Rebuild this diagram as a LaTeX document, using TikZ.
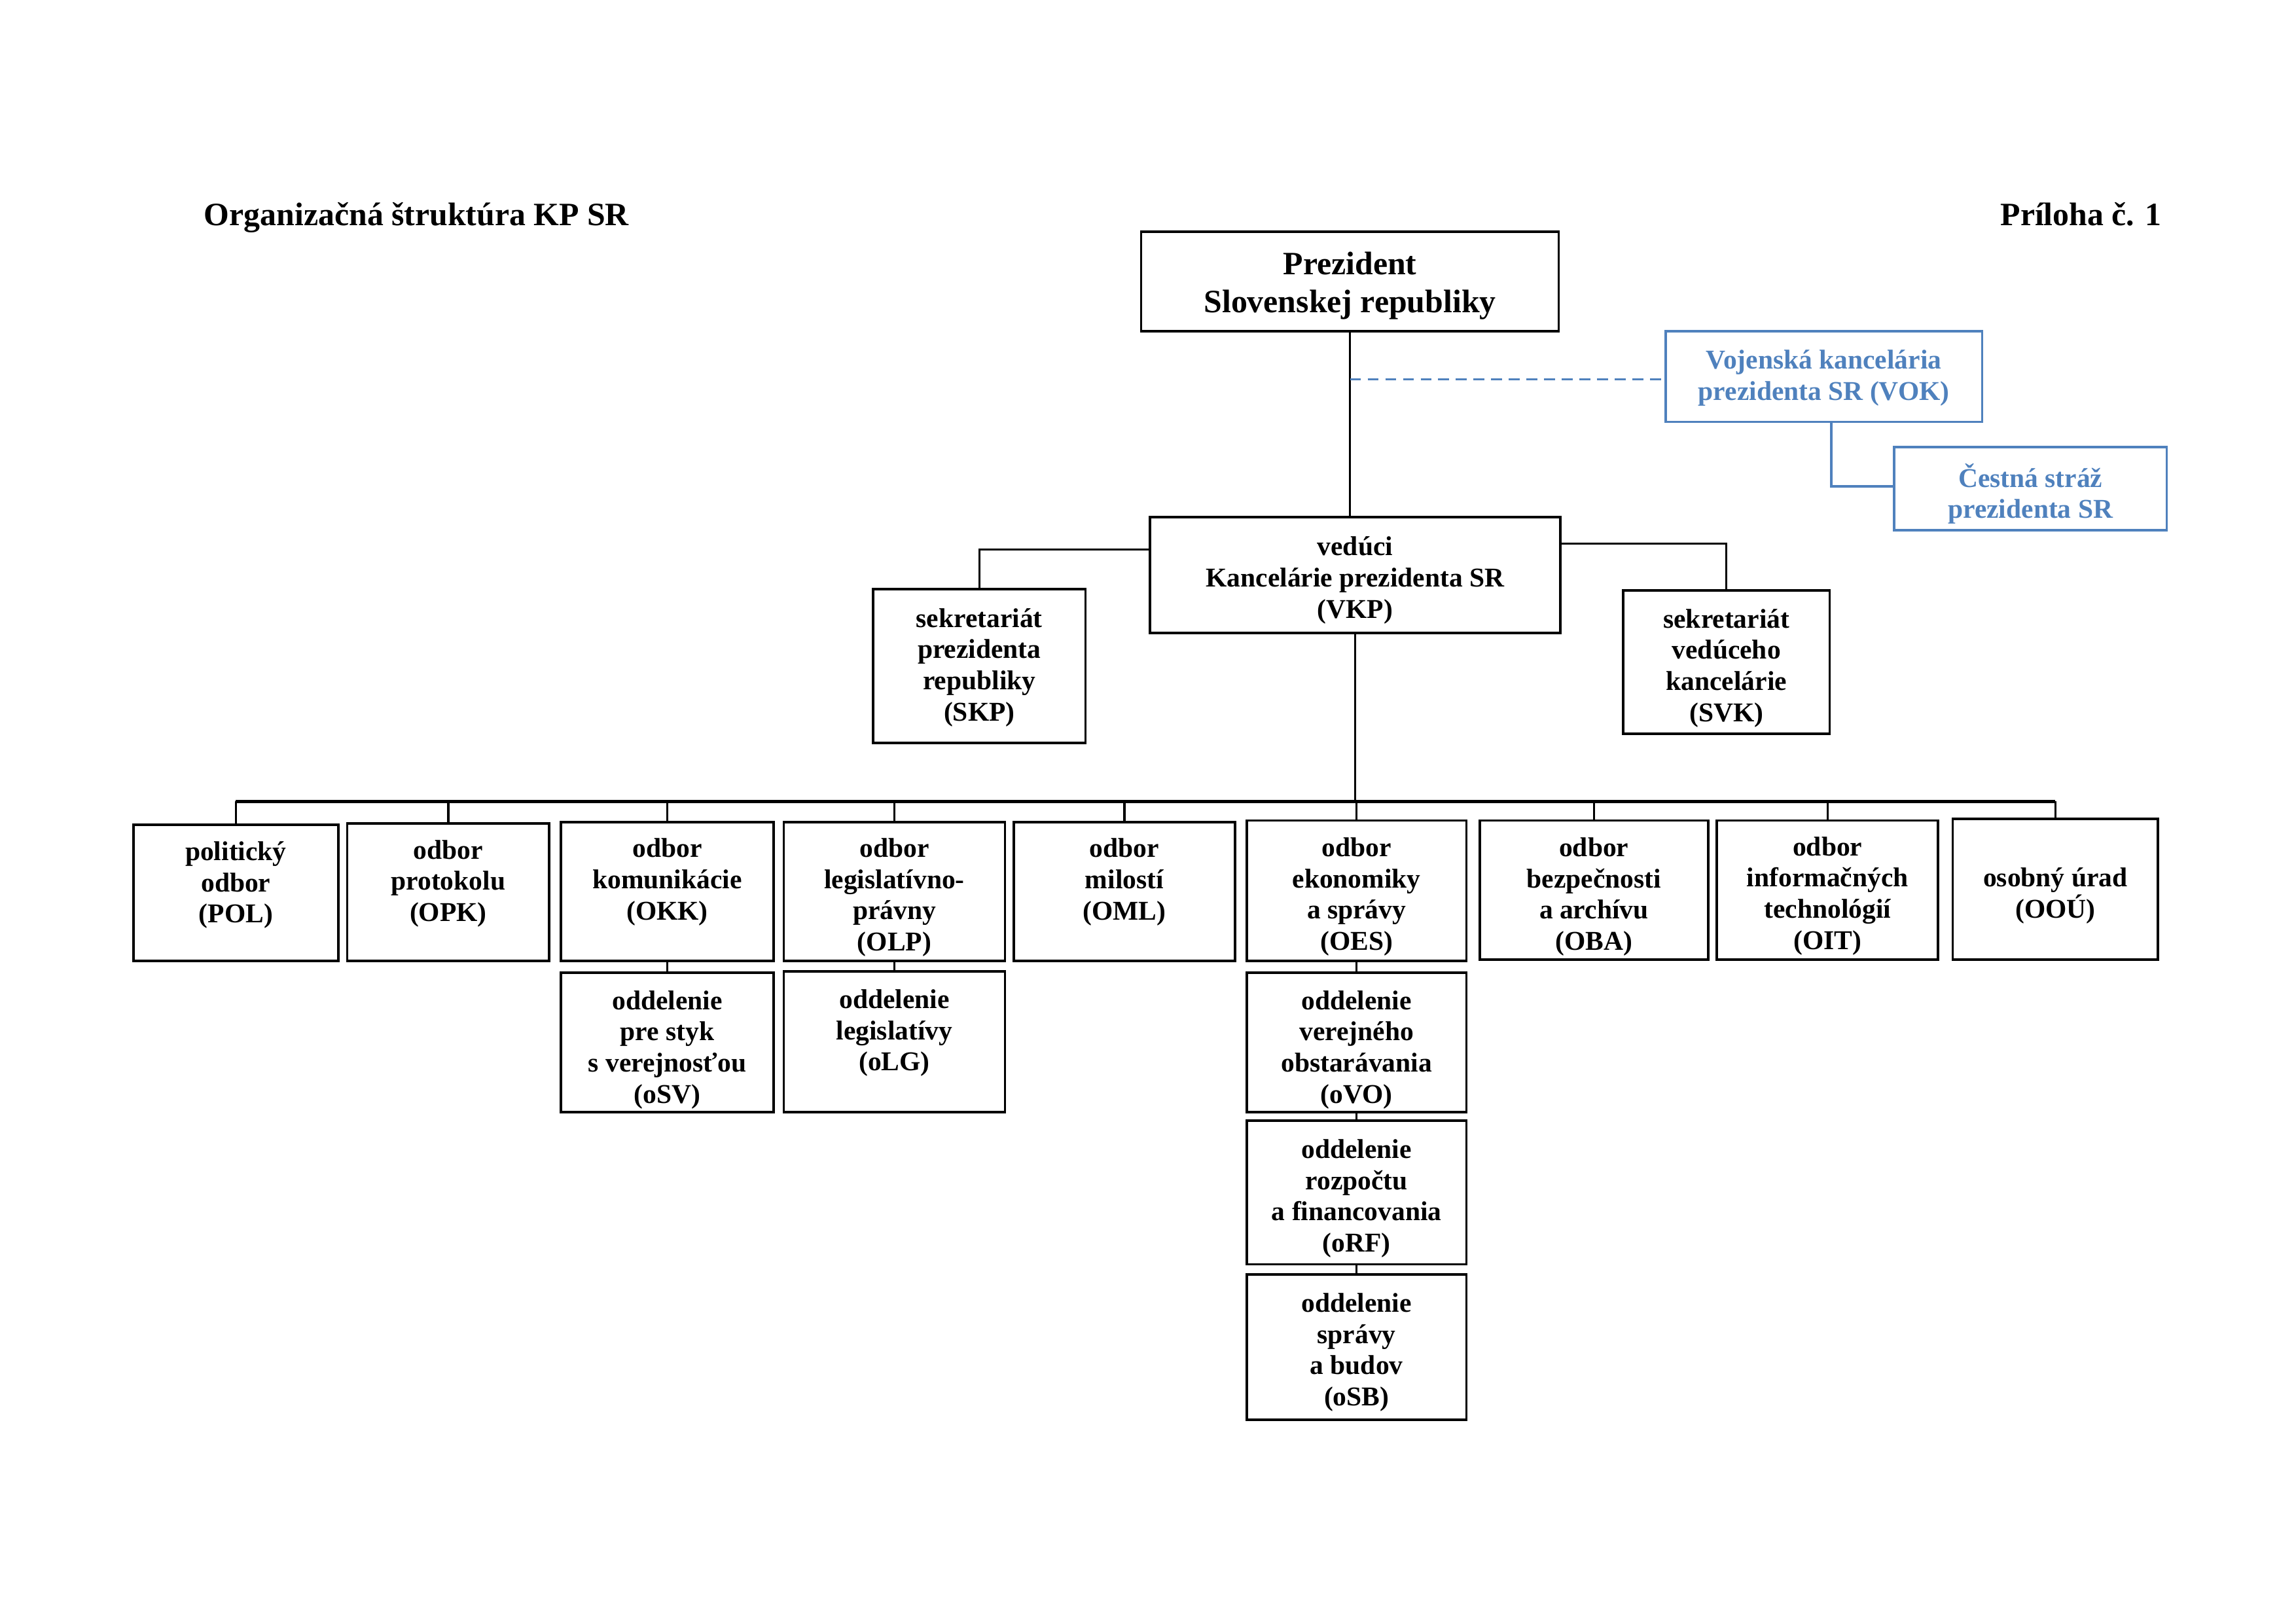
\documentclass[tikz,border=0pt]{standalone}
\usepackage{fontspec}
\setmainfont{Liberation Serif}
\usetikzlibrary{fit,calc}
\definecolor{vblue}{RGB}{79,129,189}
\begin{document}
\begin{tikzpicture}[x=0.1895mm,y=-0.1895mm,
  box/.style={draw, line width=0.9pt, inner sep=0pt, rectangle},
  bbox/.style={draw=vblue, line width=0.9pt, inner sep=0pt, rectangle},
  txt/.style={font=\bfseries\fontsize{10}{11.5}\selectfont, align=center, inner sep=0pt, yshift=-1.1pt},
  bigtxt/.style={font=\bfseries\fontsize{12}{13.8}\selectfont, align=center, inner sep=0pt, yshift=-1.1pt},
  btxt/.style={txt, text=vblue},
  conn/.style={line width=0.8pt},
  bus/.style={line width=1.1pt}]
\useasboundingbox (0,0) rectangle (1567.3,1108.4);

% titles
\node[bigtxt, anchor=base west] (title) at (139,152) {Organizačná štruktúra KP SR};
\node[bigtxt, anchor=base east] (annex) at (1476,152) {Príloha č. 1};

% top
\node[box, fit={(779,158) (1064,226)}] (prez) {};
\node[bigtxt] (prez-t) at (921.5,193) {Prezident\\Slovenskej republiky};

\node[bbox, fit={(1137,226) (1353,288)}] (vok) {};
\node[btxt] (vok-t) at (1245,256) {Vojenská kancelária\\prezidenta SR (VOK)};

\node[bbox, fit={(1293,305) (1479,362)}] (cs) {};
\node[btxt] (cs-t) at (1386,335) {Čestná stráž\\prezidenta SR};

\node[box, fit={(785,353) (1065,432)}] (vkp) {};
\node[txt] (vkp-t) at (925,394) {vedúci\\Kancelárie prezidenta SR\\(VKP)};

\node[box, fit={(596,402) (741,507)}] (skp) {};
\node[txt] (skp-t) at (668.5,453.5) {sekretariát\\prezidenta\\republiky\\(SKP)};

\node[box, fit={(1108,403) (1249,501)}] (svk) {};
\node[txt] (svk-t) at (1178.5,454) {sekretariát\\vedúceho\\kancelárie\\(SVK)};

% departments
\node[box, fit={(91,563) (231,656)}] (pol) {};
\node[txt] (pol-t) at (161,602) {politický\\odbor\\(POL)};
\node[box, fit={(237,562) (375,656)}] (opk) {};
\node[txt] (opk-t) at (306,601) {odbor\\protokolu\\(OPK)};
\node[box, fit={(383,561) (528,656)}] (okk) {};
\node[txt] (okk-t) at (455.5,600) {odbor\\komunikácie\\(OKK)};
\node[box, fit={(535,561) (686,656)}] (olp) {};
\node[txt] (olp-t) at (610.5,610.5) {odbor\\legislatívno-\\právny\\(OLP)};
\node[box, fit={(692,561) (843,656)}] (oml) {};
\node[txt] (oml-t) at (767.5,600) {odbor\\milostí\\(OML)};
\node[box, fit={(851,560) (1001,656)}] (oes) {};
\node[txt] (oes-t) at (926,610) {odbor\\ekonomiky\\a správy\\(OES)};
\node[box, fit={(1010,560) (1166,655)}] (oba) {};
\node[txt] (oba-t) at (1088,610) {odbor\\bezpečnosti\\a archívu\\(OBA)};
\node[box, fit={(1172,560) (1323,655)}] (oit) {};
\node[txt] (oit-t) at (1247.5,609.5) {odbor\\informačných\\technológií\\(OIT)};
\node[box, fit={(1333,559) (1473,655)}] (oou) {};
\node[txt] (oou-t) at (1403,609.5) {osobný úrad\\(OOÚ)};

% sections
\node[box, fit={(383,664) (528,759)}] (osv) {};
\node[txt] (osv-t) at (455.5,714.5) {oddelenie\\pre styk\\s verejnosťou\\(oSV)};
\node[box, fit={(535,663) (686,759)}] (olg) {};
\node[txt] (olg-t) at (610.5,703) {oddelenie\\legislatívy\\(oLG)};
\node[box, fit={(851,664) (1001,759)}] (ovo) {};
\node[txt] (ovo-t) at (926,714.5) {oddelenie\\verejného\\obstarávania\\(oVO)};
\node[box, fit={(851,765) (1001,863)}] (orf) {};
\node[txt] (orf-t) at (926,816) {oddelenie\\rozpočtu\\a financovania\\(oRF)};
\node[box, fit={(851,870) (1001,969)}] (osb) {};
\node[txt] (osb-t) at (926,921) {oddelenie\\správy\\a budov\\(oSB)};

% connectors
\draw[conn] (prez.south) -- (prez.south |- vkp.north);
\draw[conn, draw=vblue, dashed, dash pattern=on 4pt off 2.5pt] (prez.south |- 0,259) -- (vok.west |- 0,259);
\draw[conn, draw=vblue] (vok.south -| 1250,0) |- (cs.west |- 0,332);
\draw[conn] (vkp.west |- 0,375) -| (skp.north);
\draw[conn] (vkp.east |- 0,371) -| (svk.north);
\draw[conn] (vkp.south) -- (vkp.south |- 0,547);
\draw[bus] (pol.north |- 0,547) -- (oou.north |- 0,547);
\foreach \n in {pol,opk,okk,olp,oml,oes,oba,oit,oou}{
  \draw[conn] (\n.north |- 0,547) -- (\n.north);
}
\draw[conn] (okk.south) -- (osv.north);
\draw[conn] (olp.south) -- (olg.north);
\draw[conn] (oes.south) -- (ovo.north);
\draw[conn] (ovo.south) -- (orf.north);
\draw[conn] (orf.south) -- (osb.north);
\end{tikzpicture}
\end{document}
